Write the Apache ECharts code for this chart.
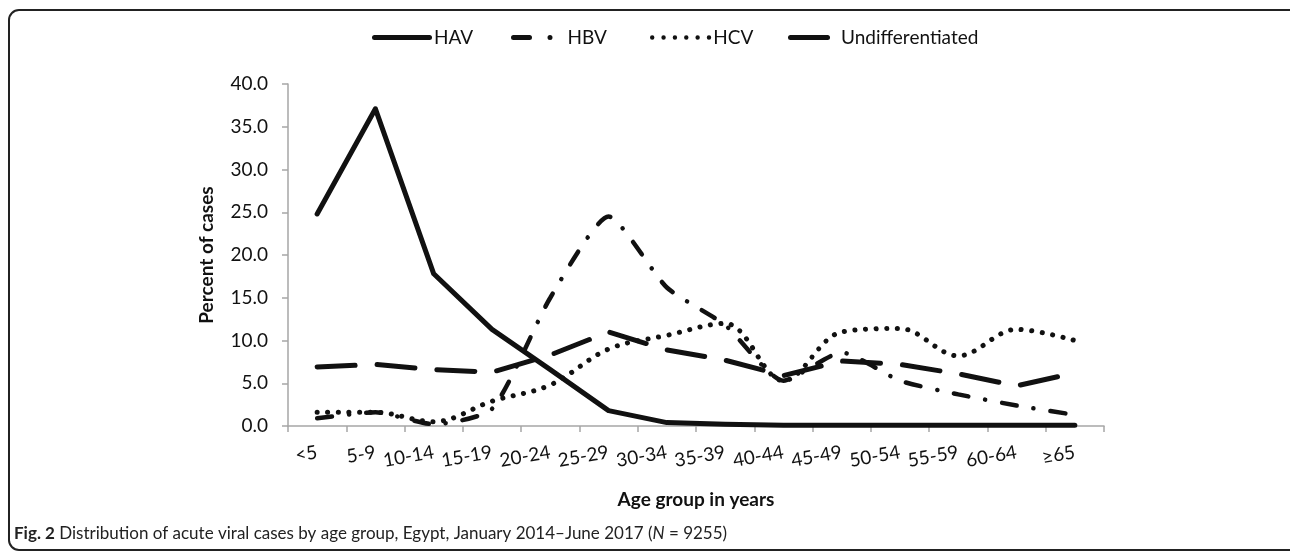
<!DOCTYPE html>
<html>
<head>
	<meta charset="utf-8">
	<title>Acute viral hepatitis by age group</title>
	<script src="https://cdn.jsdelivr.net/npm/echarts@6/dist/echarts.min.js"></script>
	<style type="text/css">
		* {
			padding: 0;
			margin: 0;
		}
		body {
			background-color: #fff;
		}
		#chart {
			width: 1290px;
			height: 555px;
		}
	</style>
</head>
<body>
	<div id="chart"></div>
	<script type="text/javascript">
		var ageGroups = ['<5', '5-9', '10-14', '15-19', '20-24', '25-29', '30-34', '35-39', '40-44', '45-49', '50-54', '55-59', '60-64', '≥65'];
		var hav = [24.8, 37.1, 17.8, 11.3, 6.6, 1.8, 0.4, 0.2, 0.1, 0.1, 0.1, 0.1, 0.1, 0.1];
		var hbv = [0.9, 1.6, 0.2, 2.0, 15.0, 24.5, 16.2, 11.8, 5.3, 8.6, 5.3, 3.7, 2.4, 1.3];
		var hcv = [1.6, 1.6, 0.5, 2.9, 4.8, 9.0, 10.6, 12.0, 5.3, 11.0, 11.4, 8.2, 11.3, 10.0];
		var undiff = [6.9, 7.2, 6.6, 6.3, 8.3, 11.0, 8.9, 7.7, 5.9, 7.6, 7.2, 6.1, 4.7, 6.2];
		var yTicks = [0, 40, 5];

		var font = 'Lato, "Open Sans", sans-serif';
		var ink = '#111';

		// legend swatches, drawn like the excel legend (height 5)
		var icons = {
			HAV: 'path://M2.5,0H57.5A2.5,2.5 0 0 1 57.5,5H2.5A2.5,2.5 0 0 1 2.5,0Z',
			HBV: 'path://M2.5,0H18.5A2.5,2.5 0 0 1 18.5,5H2.5A2.5,2.5 0 0 1 2.5,0Z' +
				'M39,0A2.5,2.5 0 1 1 39,5A2.5,2.5 0 1 1 39,0Z',
			HCV: 'path://M2.5,0.3A2.2,2.2 0 1 1 2.5,4.7A2.2,2.2 0 1 1 2.5,0.3Z' +
				'M13.8,0.3A2.2,2.2 0 1 1 13.8,4.7A2.2,2.2 0 1 1 13.8,0.3Z' +
				'M25.1,0.3A2.2,2.2 0 1 1 25.1,4.7A2.2,2.2 0 1 1 25.1,0.3Z' +
				'M36.4,0.3A2.2,2.2 0 1 1 36.4,4.7A2.2,2.2 0 1 1 36.4,0.3Z' +
				'M47.7,0.3A2.2,2.2 0 1 1 47.7,4.7A2.2,2.2 0 1 1 47.7,0.3Z' +
				'M59,0.3A2.2,2.2 0 1 1 59,4.7A2.2,2.2 0 1 1 59,0.3Z',
			Undifferentiated: 'path://M2.5,0H39.5A2.5,2.5 0 0 1 39.5,5H2.5A2.5,2.5 0 0 1 2.5,0Z'
		};
		function legendItem(name, left, w, pad) {
			return {
				top: 23,
				left: left,
				itemWidth: w,
				itemHeight: 5,
				itemGap: 0,
				icon: icons[name],
				itemStyle: { color: '#111', borderWidth: 0 },
				textStyle: { fontSize: 19, color: ink, fontFamily: font, padding: [0, 0, 0, pad] },
				data: [name]
			};
		}

		var chart = echarts.init(document.getElementById('chart'));
		var option = {
			animation: false,
			textStyle: { fontFamily: font },
			grid: {
				left: 288,
				right: 186,
				top: 84,
				bottom: 129
			},
			legend: [
				legendItem('HAV', 367, 60, -3),
				legendItem('HBV', 506, 41.5, 10),
				legendItem('HCV', 645, 61.2, -3),
				legendItem('Undifferentiated', 783, 42, 6)
			],
			xAxis: {
				type: 'category',
				data: ageGroups,
				boundaryGap: true,
				name: 'Age group in years',
				nameLocation: 'middle',
				nameGap: 64,
				nameTextStyle: { fontSize: 19, fontWeight: 'bold', color: ink },
				axisLine: { lineStyle: { color: '#a6a6a6', width: 1.5 } },
				axisTick: { show: true, length: 6, lineStyle: { color: '#a6a6a6', width: 1.5 } },
				axisLabel: { rotate: 10, margin: 26, fontSize: 19, color: ink, interval: 0 }
			},
			yAxis: {
				type: 'value',
				min: yTicks[0],
				max: yTicks[1],
				interval: yTicks[2],
				name: 'Percent of cases',
				nameLocation: 'middle',
				nameGap: 72,
				nameTextStyle: { fontSize: 19, fontWeight: 'bold', color: ink },
				splitLine: { show: false },
				axisLine: { show: true, lineStyle: { color: '#a6a6a6', width: 1.5 } },
				axisTick: { show: true, length: 6, lineStyle: { color: '#a6a6a6', width: 1.5 } },
				axisLabel: {
					margin: 20, fontSize: 19, color: ink,
					formatter: function (v) { return v.toFixed(1); }
				}
			},
			series: [
				{
					name: 'HAV', type: 'line', data: hav, symbol: 'none',
					itemStyle: { color: '#111' },
					lineStyle: { color: '#111', width: 5, cap: 'round', join: 'round' }
				},
				{
					name: 'HBV', type: 'line', data: hbv, symbol: 'none', smooth: 0.2,
					itemStyle: { color: '#111' },
					lineStyle: { color: '#111', width: 4.5, type: [15, 17, 0.1, 17], cap: 'round' }
				},
				{
					name: 'HCV', type: 'line', data: hcv, symbol: 'none', smooth: 0.35,
					itemStyle: { color: '#111' },
					lineStyle: { color: '#111', width: 5, type: [0.1, 10.5], cap: 'round' }
				},
				{
					name: 'Undifferentiated', type: 'line', data: undiff, symbol: 'none',
					itemStyle: { color: '#111' },
					lineStyle: { color: '#111', width: 5, type: [38, 22], cap: 'round' }
				}
			],
			graphic: [
				{
					type: 'rect',
					shape: { x: 9, y: 10, width: 1300, height: 540, r: 10 },
					style: { fill: 'none', stroke: '#222', lineWidth: 2 },
					silent: true
				},
				{
					type: 'text',
					left: 14,
					top: 525,
					style: {
						text: '{b|Fig. 2} Distribution of acute viral cases by age group, Egypt, January 2014–June 2017 ({i|N} = 9255)',
						fill: '#222',
						font: '17px Lato, sans-serif',
						rich: {
							b: { fontWeight: 'bold', fontSize: 17, fontFamily: 'Lato, sans-serif', fill: '#222' },
							i: { fontStyle: 'italic', fontSize: 17, fontFamily: 'Lato, sans-serif', fill: '#222' }
						}
					}
				}
			]
		};
		chart.setOption(option);
	</script>
</body>
</html>
